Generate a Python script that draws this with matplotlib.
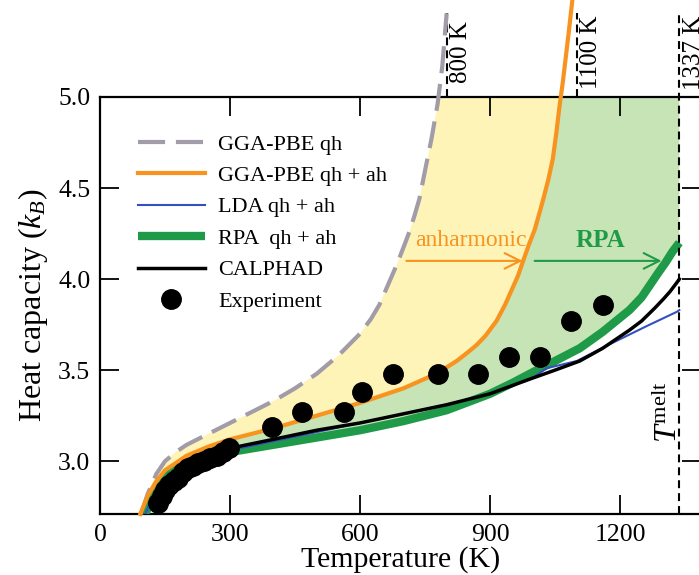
import matplotlib
matplotlib.use("Agg")
import matplotlib.pyplot as plt

plt.rcParams["font.family"] = ["Liberation Serif", "DejaVu Serif"]
plt.rcParams["mathtext.fontset"] = "custom"
plt.rcParams["mathtext.rm"] = "Liberation Serif"
plt.rcParams["mathtext.it"] = "Liberation Serif:italic"
plt.rcParams["mathtext.bf"] = "Liberation Serif:bold"

# ---- data: heat capacity of Au (units of k_B) vs temperature (K) ----
T_qh = [95, 110, 130, 150, 175, 200, 250, 300, 350, 400, 450, 500, 550, 600,
        625, 645, 665, 685, 703, 714, 726, 737, 753, 765, 779, 790, 800]
C_qh = [2.71, 2.82, 2.93, 3.00, 3.05, 3.09, 3.15, 3.21, 3.27, 3.33, 3.40, 3.48,
        3.58, 3.70, 3.78, 3.86, 3.97, 4.08, 4.19, 4.26, 4.35, 4.44, 4.63, 4.77,
        4.96, 5.17, 5.46]

T_ah = [93, 110, 130, 150, 175, 200, 250, 300, 400, 500, 600, 700, 776, 823,
        850, 870, 890, 915, 935, 950, 965, 975, 990, 1003, 1015, 1022, 1035,
        1045, 1053, 1060, 1068, 1075, 1082, 1090]
C_ah = [2.71, 2.81, 2.89, 2.95, 2.99, 3.03, 3.08, 3.12, 3.18, 3.25, 3.32, 3.40,
        3.48, 3.55, 3.60, 3.64, 3.69, 3.77, 3.86, 3.94, 4.02, 4.09, 4.19, 4.27,
        4.37, 4.43, 4.55, 4.66, 4.80, 4.94, 5.08, 5.22, 5.36, 5.53]

T_lda = [105, 120, 140, 160, 200, 250, 300, 400, 500, 600, 700, 800, 900, 1000,
         1030, 1100, 1183, 1260, 1331, 1337]
C_lda = [2.71, 2.80, 2.88, 2.93, 2.99, 3.03, 3.06, 3.11, 3.16, 3.21, 3.26, 3.31,
         3.37, 3.46, 3.51, 3.55, 3.65, 3.74, 3.82, 3.83]

T_rpa = [105, 120, 140, 160, 200, 250, 300, 400, 500, 600, 700, 800, 900, 952,
         1000, 1050, 1107, 1160, 1222, 1250, 1270, 1290, 1305, 1321, 1337]
C_rpa = [2.71, 2.80, 2.88, 2.93, 2.99, 3.03, 3.05, 3.09, 3.13, 3.17, 3.22, 3.28,
         3.37, 3.43, 3.49, 3.55, 3.62, 3.71, 3.83, 3.90, 3.97, 4.04, 4.09, 4.15,
         4.20]

T_cal = [298, 400, 500, 600, 700, 800, 900, 991, 1050, 1107, 1160, 1222, 1250,
         1280, 1300, 1315, 1331, 1337]
C_cal = [3.07, 3.12, 3.17, 3.21, 3.26, 3.31, 3.37, 3.45, 3.50, 3.55, 3.62, 3.72,
         3.77, 3.84, 3.89, 3.93, 3.98, 4.00]

T_exp = [133, 142, 151, 160, 170, 180, 191, 202, 214, 226, 240, 255, 270, 285,
         298, 398, 466, 564, 604, 676, 780, 872, 945, 1015, 1088, 1160]
C_exp = [2.77, 2.81, 2.84, 2.87, 2.89, 2.91, 2.94, 2.96, 2.975, 2.99, 3.00,
         3.015, 3.03, 3.05, 3.07, 3.19, 3.27, 3.27, 3.38, 3.48, 3.48, 3.48,
         3.57, 3.57, 3.77, 3.86]

# characteristic temperatures marked above the frame
T_marks = [800, 1100, 1337]
mark_labels = ["800 K", "1100 K", "1337 K"]
T_melt = 1337

x_ticks = [0, 300, 600, 900, 1200]
y_ticks = [3.0, 3.5, 4.0, 4.5, 5.0]

c_gray = "#a19ca8"
c_orange = "#f7931e"
c_blue = "#3450c0"
c_green = "#1f9a48"
c_yellow_fill = "#fff4b8"
c_green_fill = "#c6e4b6"

fig = plt.figure(figsize=(6.99, 5.75), dpi=100)
ax = fig.add_axes([100 / 699, 61 / 575, 601 / 699, 417 / 575])
ax.set_xlim(0, 1387)
ax.set_ylim(2.71, 5.0)

# shaded bands: quasiharmonic -> anharmonic (yellow), anharmonic -> RPA (green)
ax.fill(T_qh + T_ah[::-1], C_qh + C_ah[::-1], color=c_yellow_fill, lw=0, zorder=1)
ax.fill(T_ah + [T_rpa[-1]] + T_rpa[::-1], C_ah + [C_ah[-1]] + C_rpa[::-1],
        color=c_green_fill, lw=0, zorder=1)

ax.plot(T_qh, C_qh, color=c_gray, lw=3, ls=(0, (6.5, 2.6)), clip_on=False,
        zorder=3, label="GGA-PBE qh")
ax.plot(T_ah, C_ah, color=c_orange, lw=3, clip_on=False, zorder=4,
        label="GGA-PBE qh + ah")
ax.plot(T_rpa, C_rpa, color=c_green, lw=6, solid_capstyle="butt", zorder=3,
        label="RPA  qh + ah")
ax.plot(T_lda, C_lda, color=c_blue, lw=1.5, zorder=4, label="LDA qh + ah")
ax.plot(T_cal, C_cal, color="black", lw=2.5, zorder=5, label="CALPHAD")
ax.plot(T_exp, C_exp, "o", color="black", ms=14, zorder=6, label="Experiment")

# vertical markers
dash = (0, (3.8, 2.4))
for t in T_marks[:2]:
    ax.plot([t, t], [5.0, 5.46], color="black", lw=1.5, ls=dash, clip_on=False)
ax.plot([T_melt, T_melt], [2.71, 5.46], color="black", lw=1.5, ls=dash,
        clip_on=False, zorder=7)
for t, lab in zip(T_marks, mark_labels):
    ax.text(t + 33, 5.245, lab, rotation=90, ha="center", va="center",
            fontsize=18, clip_on=False)
ax.text(T_melt - 24, 3.27, r"$T^{\mathrm{melt}}$", rotation=90, ha="center",
        va="center", fontsize=23)

# arrows
ax.annotate("", xy=(975, 4.10), xytext=(707, 4.10),
            arrowprops=dict(arrowstyle="->", color=c_orange, lw=1.5,
                            mutation_scale=28, shrinkA=0, shrinkB=0))
ax.text(855, 4.21, "anharmonic", color=c_orange, ha="center", va="center",
        fontsize=17)
ax.annotate("", xy=(1296, 4.10), xytext=(1003, 4.10),
            arrowprops=dict(arrowstyle="->", color=c_green, lw=1.5,
                            mutation_scale=28, shrinkA=0, shrinkB=0))
ax.text(1155, 4.21, "RPA", color=c_green, ha="center", va="center",
        fontsize=18, fontweight="bold")

# axes styling
ax.set_xticks(x_ticks)
ax.set_yticks(y_ticks)
ax.set_yticklabels([f"{v:.1f}" for v in y_ticks])
ax.tick_params(direction="in", length=14, width=1.3, labelsize=18.5,
               top=True, right=True, pad=7)
for s in ax.spines.values():
    s.set_linewidth(1.6)
ax.set_xlabel("Temperature (K)", fontsize=21.5, labelpad=0)
ax.set_ylabel(r"Heat capacity ($k_B$)", fontsize=23, labelpad=6)

handles, labels = ax.get_legend_handles_labels()
order = ["GGA-PBE qh", "GGA-PBE qh + ah", "LDA qh + ah", "RPA  qh + ah",
         "CALPHAD", "Experiment"]
hmap = dict(zip(labels, handles))
ax.legend([hmap[k] for k in order], order, loc="upper left",
          bbox_to_anchor=(138 / 699, 1 - 134 / 575),
          bbox_transform=fig.transFigure, frameon=False, fontsize=16,
          handlelength=3.0, handletextpad=0.6, labelspacing=0.49,
          borderpad=0, borderaxespad=0, numpoints=1)

fig.savefig("out.png", dpi=100)
